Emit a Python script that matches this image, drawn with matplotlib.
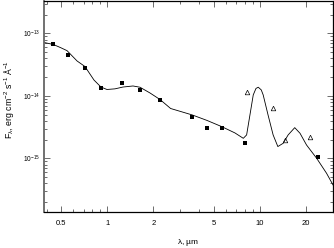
import matplotlib
matplotlib.use("Agg")
import matplotlib.pyplot as plt
from matplotlib.ticker import LogLocator, FixedLocator, NullFormatter, FixedFormatter

plt.rcParams['font.family'] = ['Liberation Sans', 'DejaVu Sans']
plt.rcParams['mathtext.fontset'] = 'custom'
plt.rcParams['mathtext.rm'] = 'Liberation Sans'
plt.rcParams['mathtext.it'] = 'Liberation Sans'

# Photometry (filled squares)
phot_wl = [0.44, 0.55, 0.71, 0.91, 1.25, 1.63, 2.21, 3.6, 4.5, 5.6, 8.0, 23.9]
phot_flux = [6.7e-14, 4.53e-14, 2.84e-14, 1.36e-14, 1.6e-14, 1.23e-14, 8.6e-15,
             4.67e-15, 3.11e-15, 3.11e-15, 1.77e-15, 1.07e-15]

# MSX (open triangles)
msx_wl = [8.28, 12.13, 14.65, 21.34]
msx_flux = [1.15e-14, 6.36e-15, 2.0e-15, 2.18e-15]

# Model SED
model_wl = [0.385, 0.443, 0.495, 0.545, 0.634, 0.714, 0.818, 0.909, 0.995, 1.123,
            1.267, 1.474, 1.637, 1.904, 2.213, 2.60, 3.60, 4.50, 5.62, 6.86,
            7.78, 8.18, 8.60, 9.04, 9.42, 9.75, 10.2, 10.5, 11.3, 12.2,
            13.1, 14.2, 15.3, 16.9, 18.3, 20.2, 23.5, 27.3, 30.1]
model_flux = [7.18e-14, 6.67e-14, 5.93e-14, 5.31e-14, 3.63e-14, 2.96e-14, 1.80e-14,
              1.39e-14, 1.27e-14, 1.30e-14, 1.39e-14, 1.445e-14, 1.38e-14, 1.117e-14,
              8.79e-15, 6.3e-15, 4.97e-15, 4.06e-15, 3.23e-15, 2.56e-15, 2.10e-15,
              2.38e-15, 4.97e-15, 1.04e-14, 1.32e-14, 1.38e-14, 1.25e-14, 1.04e-14,
              4.97e-15, 2.38e-15, 1.55e-15, 1.75e-15, 2.38e-15, 3.11e-15, 2.53e-15,
              1.64e-15, 1.01e-15, 5.8e-16, 3.77e-16]

xticks = [0.5, 1, 2, 5, 10, 20]
xticklabels = ['0.5', '1', '2', '5', '10', '20']
yticks = [1e-15, 1e-14, 1e-13]
yticklabels = [r'10$^{-15}$', r'10$^{-14}$', r'10$^{-13}$']

fig = plt.figure(figsize=(3.34, 2.48), dpi=100)
ax = fig.add_axes([44/334, 1 - 212/248, (333 - 44)/334, (212 - 1)/248])

ax.plot(model_wl, model_flux, color='black', lw=0.6)
ax.plot(phot_wl, phot_flux, 's', color='black', ms=3.4, mew=0)
ax.plot(msx_wl, msx_flux, '^', mfc='none', mec='black', ms=3.3, mew=0.5)

ax.set_xscale('log')
ax.set_yscale('log')
ax.set_xlim(0.385, 30.1)
ax.set_ylim(1.39e-16, 3.31e-13)

ax.xaxis.set_major_locator(FixedLocator(xticks))
ax.xaxis.set_major_formatter(FixedFormatter(xticklabels))
ax.xaxis.set_minor_locator(LogLocator(base=10, subs=range(1, 10)))
ax.xaxis.set_minor_formatter(NullFormatter())
ax.yaxis.set_major_locator(FixedLocator(yticks))
ax.yaxis.set_major_formatter(FixedFormatter(yticklabels))
ax.yaxis.set_minor_locator(LogLocator(base=10, subs=range(2, 10)))
ax.yaxis.set_minor_formatter(NullFormatter())

ax.tick_params(which='both', direction='in', top=True, right=True, width=0.6,
               labelsize=5.5, color='#555555')
ax.tick_params(which='major', length=4, pad=6)
ax.tick_params(which='minor', length=2)
ax.tick_params(axis='y', which='major', labelsize=4.8, pad=3)

for s in ['top', 'bottom', 'right']:
    ax.spines[s].set_linewidth(0.9)
ax.spines['left'].set_linewidth(1.3)
ax.spines['left'].set_color('#666666')

fig.text(188/334, 1 - 243/248, r'$\lambda$, µm', ha='center', va='center', fontsize=6)
fig.text(9/334, 1 - 100/248, r'F$_\lambda$, erg cm$^{-2}$ s$^{-1}$ Å$^{-1}$',
         ha='center', va='center', rotation=90, fontsize=6.3)

fig.savefig('out.png', dpi=100)
